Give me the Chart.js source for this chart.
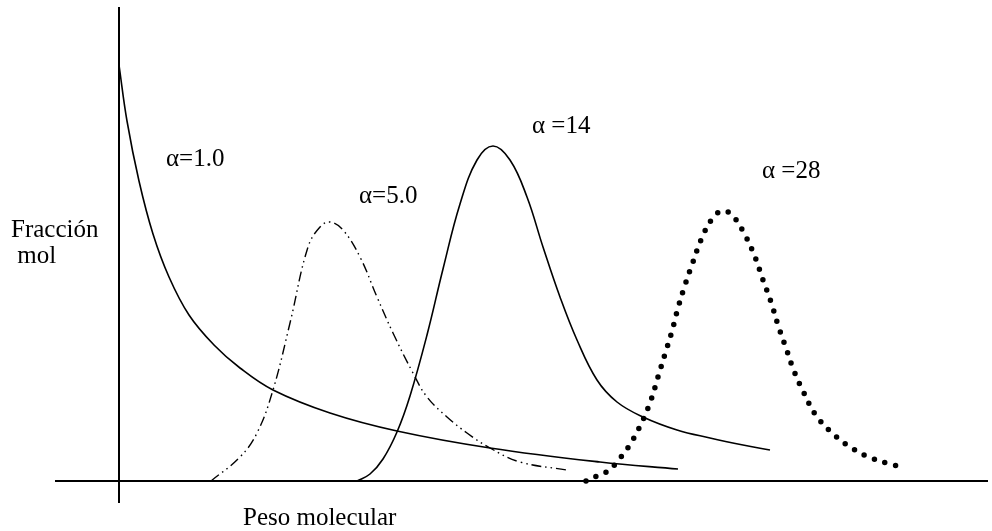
<!DOCTYPE html>
<html lang="es">
<head>
    <meta charset="utf-8">
    <script src="https://cdn.jsdelivr.net/npm/chart.js"></script>
    <style>
        html, body { margin: 0; padding: 0; background: #ffffff; }
        #wrap { width: 992px; height: 531px; }
    </style>
</head>
<body>
    <div id="wrap"><canvas id="distChart" width="992" height="531"></canvas></div>

    <script>
        // molecular weight (arbitrary units) and mole fraction for each alpha
        const a1X = [0, 0.8, 2.0, 3.4, 5.0, 7.0, 9.5, 12.1, 15.4, 21.1, 27.8, 37.1, 48.1, 55.9];
        const a1Y = [4.16, 3.60, 3.00, 2.47, 2.04, 1.66, 1.36, 1.13, 0.91, 0.68, 0.50, 0.33, 0.19, 0.12];

        const a5X = [9.2, 12.1, 13.8, 15.4, 17.1, 18.9, 20.1, 21.1, 22.4, 24.1, 25.8, 27.4, 29.4, 30.8, 32.8, 34.8, 37.1, 40.1, 44.8];
        const a5Y = [0, 0.24, 0.48, 0.91, 1.58, 2.34, 2.54, 2.59, 2.51, 2.24, 1.84, 1.48, 1.08, 0.84, 0.64, 0.48, 0.33, 0.19, 0.11];

        const a14X = [23.8, 25.1, 26.4, 27.8, 29.1, 30.8, 32.4, 34.1, 35.8, 37.4, 39.1, 40.8, 42.4, 44.1, 45.8, 47.8, 49.8, 52.4, 55.8, 59.1, 62.4, 65.1];
        const a14Y = [0, 0.07, 0.22, 0.49, 0.85, 1.46, 2.12, 2.77, 3.21, 3.35, 3.21, 2.84, 2.34, 1.84, 1.41, 1.01, 0.79, 0.64, 0.51, 0.43, 0.36, 0.31];

        const a28X = [46.7, 47.8, 48.9, 49.8, 50.5, 51.2, 52.3, 53.2, 53.9, 54.6, 55.3, 55.9, 56.6, 57.4, 58.2, 59.3, 60.3, 61.3, 62.6, 63.6, 64.4, 65.2, 65.9, 66.7, 67.5, 68.5, 69.6, 71.2, 73.1, 75.2, 77.5, 78.6];
        const a28Y = [0, 0.05, 0.10, 0.19, 0.28, 0.38, 0.59, 0.81, 1.04, 1.27, 1.50, 1.73, 1.96, 2.19, 2.41, 2.62, 2.70, 2.66, 2.46, 2.24, 2.01, 1.79, 1.56, 1.33, 1.10, 0.88, 0.67, 0.49, 0.34, 0.23, 0.16, 0.13];

        // axis extents
        const xAxisLine = [-6.4, 86.9];
        const yAxisLine = [-0.22, 4.74];

        // text labels: text, x, y (data coords, left/baseline)
        const labelText = ['\u03b1=1.0', '\u03b1=5.0', '\u03b1 =14', '\u03b1 =28', 'Fracci\u00f3n', ' mol', 'Peso molecular'];
        const labelX = [4.7, 24.0, 41.3, 64.3, -10.8, -10.8, 12.4];
        const labelY = [3.15, 2.78, 3.48, 3.03, 2.44, 2.18, -0.44];

        const pts = (xs, ys) => xs.map((x, i) => ({ x: x, y: ys[i] }));

        const curve = (data, extra) => Object.assign({
            data: data,
            showLine: true,
            borderColor: '#000',
            borderWidth: 1.6,
            pointRadius: 0,
            fill: false,
            tension: 0.4
        }, extra || {});

        const textLabels = {
            id: 'textLabels',
            afterDatasetsDraw(chart) {
                const ctx = chart.ctx;
                const xs = chart.scales.x, ys = chart.scales.y;
                ctx.save();
                ctx.fillStyle = '#000';
                ctx.font = '25px "Liberation Serif", "Times New Roman", serif';
                ctx.textBaseline = 'alphabetic';
                ctx.textAlign = 'left';
                labelText.forEach((t, i) => {
                    ctx.fillText(t, xs.getPixelForValue(labelX[i]), ys.getPixelForValue(labelY[i]));
                });
                ctx.restore();
            }
        };

        new Chart(document.getElementById('distChart'), {
            type: 'scatter',
            data: {
                datasets: [
                    curve(pts(xAxisLine, [0, 0]), { borderWidth: 2, tension: 0 }),
                    curve(pts([0, 0], yAxisLine), { borderWidth: 2, tension: 0 }),
                    curve(pts(a1X, a1Y)),
                    curve(pts(a5X, a5Y), { borderWidth: 1.4, borderDash: [10, 4, 1.5, 4, 1.5, 4] }),
                    curve(pts(a14X, a14Y)),
                    curve(pts(a28X, a28Y), { borderWidth: 5.5, borderDash: [0, 11], borderCapStyle: 'round' })
                ]
            },
            options: {
                responsive: false,
                animation: false,
                layout: { padding: 0 },
                plugins: { legend: { display: false }, tooltip: { enabled: false } },
                scales: {
                    x: { type: 'linear', min: -11.9, max: 87.3, display: false },
                    y: { type: 'linear', min: -0.5, max: 4.81, display: false }
                }
            },
            plugins: [textLabels]
        });
    </script>
</body>
</html>
